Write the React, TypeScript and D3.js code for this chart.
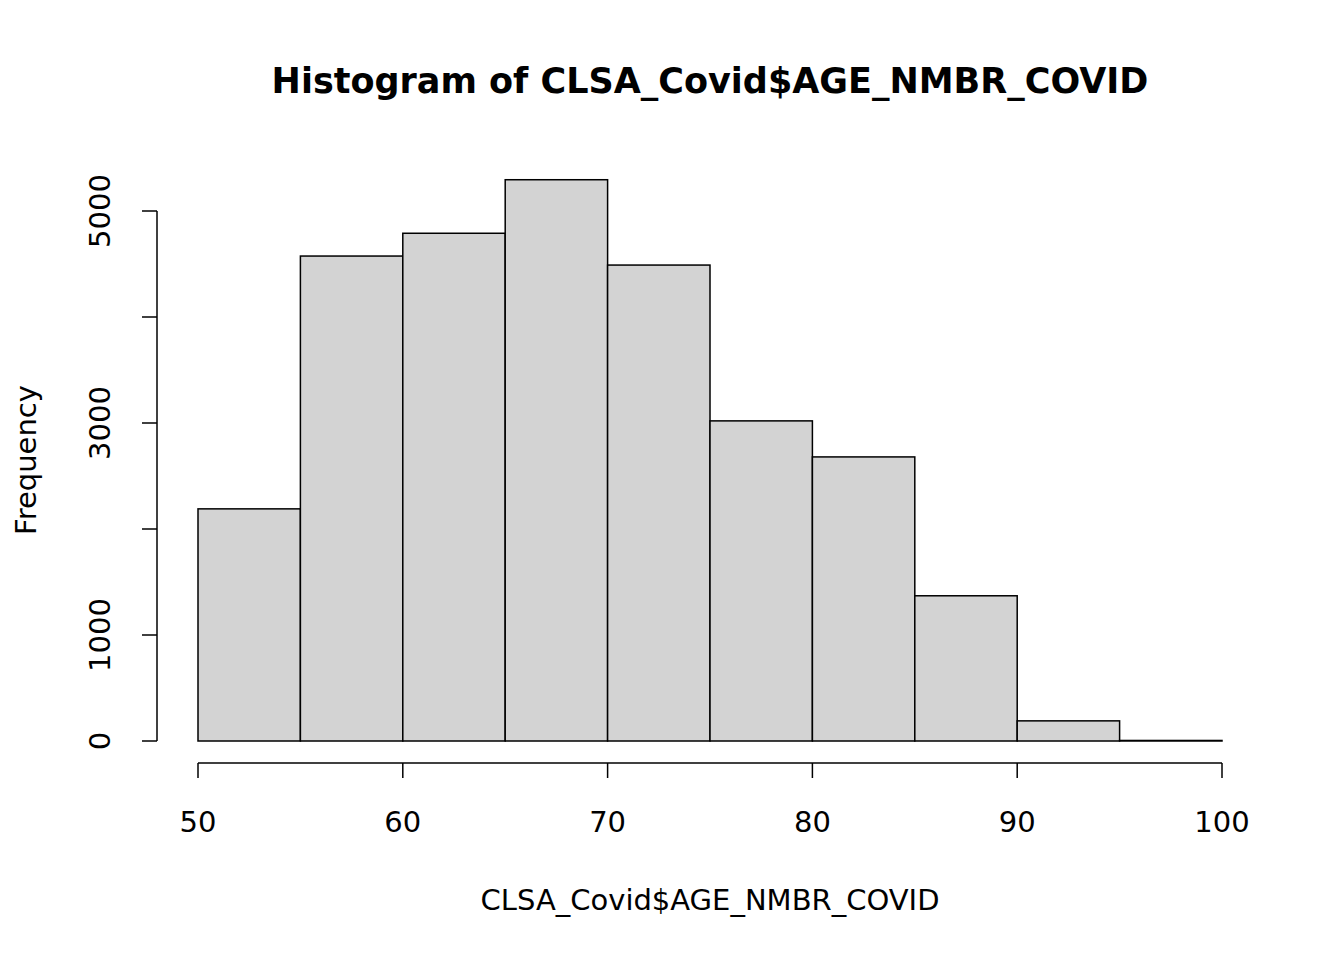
import React from "react";
import * as d3 from "d3";

const binStarts = [50, 55, 60, 65, 70, 75, 80, 85, 90, 95];
const binWidth = 5;
const counts = [2190, 4575, 4790, 5295, 4490, 3020, 2680, 1370, 190, 5];
const yTicks = [0, 1000, 2000, 3000, 4000, 5000];
const yLabels = [0, 1000, 3000, 5000];
const xTicks = [50, 60, 70, 80, 90, 100];

export default function App() {
  const x = d3.scaleLinear().domain([50, 100]).range([198, 1222]);
  const y = d3.scaleLinear().domain([0, 5000]).range([741, 211]);
  const font = "DejaVu Sans, Liberation Sans, sans-serif";
  return (
    <svg width={1344} height={960} style={{ position: "absolute", left: 0, top: 0, background: "#fff" }} fontFamily={font}>
      <rect width={1344} height={960} fill="#fff" />
      <text x={710} y={93} textAnchor="middle" fontWeight="bold" fontSize={35}>
        Histogram of CLSA_Covid$AGE_NMBR_COVID
      </text>
      {binStarts.map((b, i) => (
        <rect key={b} x={x(b)} y={y(counts[i])} width={x(b + binWidth) - x(b)} height={y(0) - y(counts[i])}
          fill="#d3d3d3" stroke="#000" strokeWidth={1.5} />
      ))}
      <line x1={x(50)} x2={x(100)} y1={763} y2={763} stroke="#000" strokeWidth={1.5} />
      {xTicks.map(t => (
        <g key={t}>
          <line x1={x(t)} x2={x(t)} y1={763} y2={778} stroke="#000" strokeWidth={1.5} />
          <text x={x(t)} y={832} textAnchor="middle" fontSize={29}>{t}</text>
        </g>
      ))}
      <line x1={157} x2={157} y1={y(0)} y2={y(5000)} stroke="#000" strokeWidth={1.5} />
      {yTicks.map(t => (
        <line key={t} x1={142} x2={157} y1={y(t)} y2={y(t)} stroke="#000" strokeWidth={1.5} />
      ))}
      {yLabels.map(t => (
        <text key={t} transform={`translate(110,${y(t)}) rotate(-90)`} textAnchor="middle" fontSize={29}>{t}</text>
      ))}
      <text x={710} y={910} textAnchor="middle" fontSize={29}>CLSA_Covid$AGE_NMBR_COVID</text>
      <text transform={`translate(36,460) rotate(-90)`} textAnchor="middle" fontSize={29}>Frequency</text>
    </svg>
  );
}
